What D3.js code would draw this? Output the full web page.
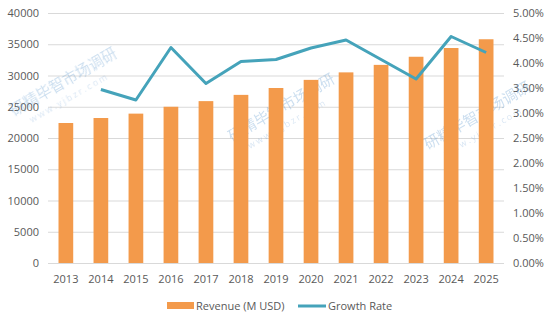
<!DOCTYPE html>
<html>
<head>
<meta charset="utf-8">
<script src="https://cdn.jsdelivr.net/npm/d3@7"></script>
<style>
  body { margin: 0; background: #fff; }
  svg text { font-family: "Open Sans", "Noto Sans", sans-serif; }
</style>
</head>
<body>
<div id="chart"></div>
<script>
// Revenue bars with growth-rate line on a second axis

const width = 551;
const height = 323;
const margin = { top: 13, right: 47, bottom: 60, left: 48 };

const years = ["2013", "2014", "2015", "2016", "2017", "2018", "2019",
               "2020", "2021", "2022", "2023", "2024", "2025"];
const revenue = [22400, 23200, 23900, 25000, 25900, 26900, 28000,
                 29300, 30500, 31700, 33000, 34400, 35800];
// growth rate in %, no value for the first year
const growthYears = years.slice(1);
const growth = [3.47, 3.26, 4.31, 3.59, 4.03, 4.07, 4.30, 4.46, 4.07, 3.68, 4.53, 4.21];

const leftTicks = [0, 5000, 10000, 15000, 20000, 25000, 30000, 35000, 40000];
const rightTicks = [0, 0.5, 1, 1.5, 2, 2.5, 3, 3.5, 4, 4.5, 5];

const barColor = "#f39a4b";
const lineColor = "#45a3ba";
const textColor = "#595959";

const svg = d3.select("#chart").append("svg")
    .attr("width", width)
    .attr("height", height);

const x = d3.scaleBand()
    .domain(years)
    .range([margin.left, width - margin.right])
    .paddingInner(0.58)
    .paddingOuter(0.3);

const yLeft = d3.scaleLinear()
    .domain([0, 40000])
    .range([height - margin.bottom, margin.top]);

const yRight = d3.scaleLinear()
    .domain([0, 5])
    .range([height - margin.bottom, margin.top]);

// gridlines
svg.append("g")
    .selectAll("line")
    .data(leftTicks)
    .join("line")
    .attr("x1", margin.left)
    .attr("x2", width - margin.right)
    .attr("y1", d => yLeft(d) + 0.5)
    .attr("y2", d => yLeft(d) + 0.5)
    .attr("stroke", "#d9d9d9")
    .attr("stroke-width", 1);

// left axis
const leftAxis = svg.append("g")
    .attr("transform", `translate(${margin.left}, 0)`)
    .call(d3.axisLeft(yLeft).tickValues(leftTicks).tickSize(0).tickPadding(9)
        .tickFormat(d3.format("d")));

// right axis
const rightAxis = svg.append("g")
    .attr("transform", `translate(${width - margin.right}, 0)`)
    .call(d3.axisRight(yRight).tickValues(rightTicks).tickSize(0).tickPadding(9)
        .tickFormat(d => d.toFixed(2) + "%"));

// bottom axis
const bottomAxis = svg.append("g")
    .attr("transform", `translate(0, ${height - margin.bottom})`)
    .call(d3.axisBottom(x).tickSize(0).tickPadding(12));

[leftAxis, rightAxis, bottomAxis].forEach(g => {
    g.select(".domain").remove();
    g.selectAll("text")
        .attr("fill", textColor)
        .style("font-size", "11px");
});

// faint watermark text
const marks = [
    { x: 14, y: 116 },
    { x: 232, y: 142 },
    { x: 428, y: 150 }
];
const wm = svg.append("g").attr("opacity", 0.28);
marks.forEach(m => {
    const g = wm.append("g").attr("transform", `translate(${m.x},${m.y}) rotate(-30)`);
    g.append("text")
        .text("研精毕智市场调研")
        .attr("fill", "#4a8cc8")
        .style("font-family", "'Noto Sans CJK SC'")
        .style("font-size", "15px");
    g.append("text")
        .attr("y", 15)
        .attr("x", 12)
        .text("www.yjbzr.com")
        .attr("fill", "#7aa8d8")
        .style("font-size", "9px")
        .style("letter-spacing", "2px");
});

// bars
svg.append("g")
    .selectAll("rect")
    .data(revenue)
    .join("rect")
    .attr("x", (d, i) => x(years[i]))
    .attr("y", d => yLeft(d))
    .attr("width", x.bandwidth())
    .attr("height", d => yLeft(0) - yLeft(d))
    .attr("fill", barColor);

// growth line
const line = d3.line()
    .x((d, i) => x(growthYears[i]) + x.bandwidth() / 2)
    .y(d => yRight(d));

svg.append("path")
    .datum(growth)
    .attr("d", line)
    .attr("fill", "none")
    .attr("stroke", lineColor)
    .attr("stroke-width", 3)
    .attr("stroke-linejoin", "round");

// legend
const legend = svg.append("g").attr("transform", `translate(0, ${height - 17})`);
legend.append("rect")
    .attr("x", 167).attr("y", -4)
    .attr("width", 27).attr("height", 7)
    .attr("fill", barColor);
legend.append("text")
    .attr("x", 196).attr("y", 4)
    .text("Revenue (M USD)")
    .attr("fill", textColor)
    .style("font-size", "11px");
legend.append("line")
    .attr("x1", 298).attr("x2", 326)
    .attr("y1", 0).attr("y2", 0)
    .attr("stroke", lineColor)
    .attr("stroke-width", 3);
legend.append("text")
    .attr("x", 328).attr("y", 4)
    .text("Growth Rate")
    .attr("fill", textColor)
    .style("font-size", "11px");
</script>
</body>
</html>
